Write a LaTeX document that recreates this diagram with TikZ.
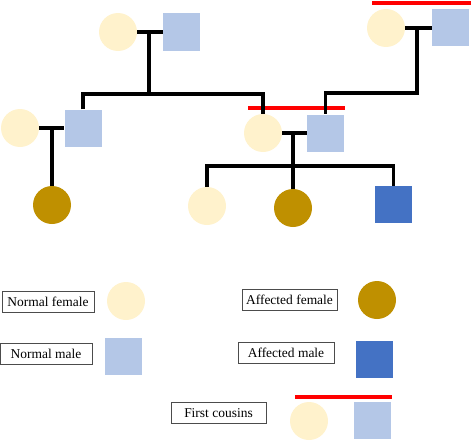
\documentclass[tikz,border=0pt]{standalone}
\usepackage{fontspec}
\setmainfont{Liberation Serif}
\definecolor{nfemale}{HTML}{FFF2CC}
\definecolor{nmale}{HTML}{B4C7E7}
\definecolor{afemale}{HTML}{BF9000}
\definecolor{amale}{HTML}{4472C4}
\definecolor{cousinred}{HTML}{FF0000}
\begin{document}
\begin{tikzpicture}[x=0.3mm,y=-0.3mm,
	female/.style={circle,fill=#1,minimum size=11.4mm,inner sep=0pt},
	male/.style={rectangle,fill=#1,minimum size=11.1mm,inner sep=0pt},
	link/.style={line width=2.8pt,black},
	cousin/.style={line width=2.8pt,cousinred},
	keybox/.style={draw=black!70,line width=0.7pt,minimum width=27.6mm,minimum height=6.3mm,inner sep=1pt,font=\fontsize{11.5}{13}\selectfont}]
	\useasboundingbox (0,0) rectangle (473,440);
	\node[female=nfemale] (gf1) at (118,32) {};
	\node[male=nmale] (gm1) at (181.5,32) {};
	\node[female=nfemale] (gf2) at (386,28) {};
	\node[male=nmale] (gm2) at (450.5,28) {};
	\node[female=nfemale] (f3) at (20,128) {};
	\node[male=nmale] (m3) at (83,128) {};
	\node[female=nfemale] (f4) at (263,133) {};
	\node[male=nmale] (m4) at (325.5,133) {};
	\node[female=afemale] (c1) at (52,205) {};
	\node[female=nfemale] (c2) at (207,206) {};
	\node[female=afemale] (c3) at (293,208) {};
	\node[male=amale] (c4) at (393.5,204.5) {};
	\coordinate (j1) at (149,32);
	\coordinate (s1) at (149,94);
	\coordinate (j2) at (417,28);
	\coordinate (s2) at (417,93);
	\coordinate (j3) at (52,128);
	\coordinate (j4) at (293,133);
	\coordinate (s4) at (293,166);
	\draw[cousin] (372,3) -- (471,3);
	\draw[cousin] (248,108) -- (345,108);
	\draw[link] (gf1.east) -- (gm1.west);
	\draw[link] (j1) -- (s1);
	\draw[link] (m3.north) |- (s1) -| (f4.north);
	\draw[link] (gf2.east) -- (gm2.west);
	\draw[link] (j2) -- (s2) -| (m4.north);
	\draw[link] (f3.east) -- (m3.west);
	\draw[link] (j3) -- (c1.north);
	\draw[link] (f4.east) -- (m4.west);
	\draw[link] (j4) -- (c3.north);
	\draw[link] (c2.north) |- (s4) -| (c4.north);
	\node[keybox] (knf) at (48,301.5) {Normal female};
	\node[female=nfemale] (lnf) at (126,301) {};
	\node[keybox] (knm) at (46,353.5) {Normal male};
	\node[male=nmale] (lnm) at (123,356.5) {};
	\node[keybox,minimum width=28.5mm] (kaf) at (289.5,300) {Affected female};
	\node[female=afemale] (laf) at (377,300) {};
	\node[keybox,minimum width=28.8mm] (kam) at (286,353) {Affected male};
	\node[male=amale] (lam) at (374,359) {};
	\node[keybox,minimum width=28.5mm] (kfc) at (218.5,413) {First cousins};
	\node[female=nfemale] (lfc1) at (309,421) {};
	\node[male=nmale] (lfc2) at (372,420.5) {};
	\draw[cousin] (295,397) -- (392,397);
\end{tikzpicture}
\end{document}
